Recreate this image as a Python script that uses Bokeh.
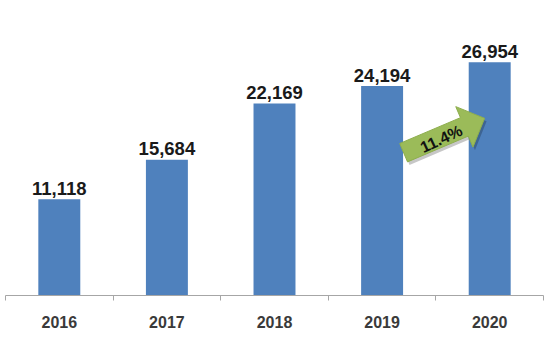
import math
from bokeh.plotting import figure
from bokeh.models import Range1d, FixedTicker, ColumnDataSource, Div
from bokeh.layouts import column
from bokeh.core.properties import value
from bokeh.embed import file_html
from bokeh.resources import INLINE

# ---- data ----
years = [2016, 2017, 2018, 2019, 2020]
values = [11118, 15684, 22169, 24194, 26954]
value_labels = [f"{v:,}" for v in values]
year_labels = [str(y) for y in years]
growth_label = f"{(values[-1] / values[-2] - 1) * 100:.1f}%"

# ---- layout constants ----
W, H = 550, 336
BL, BR, BT, BB = 5, 7, 0, 41
frame_w = W - BL - BR
frame_h = H - BT - BB
x0, x1 = years[0] - 0.5, years[-1] + 0.5
y0, y1 = 0, 34080
kx = frame_w / (x1 - x0)          # px per x unit
ky = frame_h / (y1 - y0)          # px per y unit

p = figure(width=W, height=H, output_backend="svg", toolbar_location=None,
           x_range=Range1d(x0, x1), y_range=Range1d(y0, y1),
           y_axis_location=None,
           min_border_left=BL, min_border_right=BR,
           min_border_top=BT, min_border_bottom=BB)
p.outline_line_color = None
p.xgrid.visible = False
p.ygrid.visible = False
p.background_fill_color = "white"
p.border_fill_color = "white"

# bars
src = ColumnDataSource(dict(x=years, top=values, lab=value_labels))
p.vbar(x="x", top="top", width=0.39, source=src,
       fill_color="#4F81BD", line_color=None)

# value labels
p.text(x="x", y="top", text="lab", source=src,
       text_align="center", text_baseline="alphabetic", y_offset=-11,
       text_font=value("Liberation Sans"), text_font_style="bold",
       text_font_size="18.5px", text_color="#1a1a1a")

# x axis
ax = p.xaxis[0]
ax.ticker = FixedTicker(ticks=years,
                        minor_ticks=[y - 0.5 for y in years] + [years[-1] + 0.5])
ax.major_label_overrides = {y: s for y, s in zip(years, year_labels)}
ax.major_tick_out = 0
ax.major_tick_in = 0
ax.minor_tick_out = 5
ax.minor_tick_in = 0
ax.minor_tick_line_color = "#a6a6a6"
ax.axis_line_color = "#a6a6a6"
ax.major_label_standoff = 15
ax.major_label_text_font = "Liberation Sans"
ax.major_label_text_font_style = "bold"
ax.major_label_text_font_size = "16px"
ax.major_label_text_color = "#3a3a3a"

# growth arrow (annotation), geometry in pixels converted to data units
ang = math.radians(23)
L, bl, bw, hw = 88, 66, 20, 44
ax_anchor, ay_anchor = years[3] + 0.2, 16500
ux, uy = math.cos(ang), math.sin(ang)
nx, ny = -math.sin(ang), math.cos(ang)
pts = [(0, -bw / 2), (bl, -bw / 2), (bl, -hw / 2), (L, 0),
       (bl, hw / 2), (bl, bw / 2), (0, bw / 2)]


def to_data(a, b, dx=0.0, dy=0.0):
    px = a * ux + b * nx + dx
    py = a * uy + b * ny + dy
    return ax_anchor + px / kx, ay_anchor + py / ky


shadow = [to_data(a, b, 2, -3) for a, b in pts]
arrow = [to_data(a, b) for a, b in pts]
p.patch([q[0] for q in shadow], [q[1] for q in shadow],
        fill_color="#000000", fill_alpha=0.22, line_color=None)
p.patch([q[0] for q in arrow], [q[1] for q in arrow],
        fill_color="#9BBB59", line_color="#8eae4e", line_width=1)

tx, ty = to_data(40, -2)
p.text(x=[tx], y=[ty], text=[growth_label], angle=math.radians(25),
       text_align="center", text_baseline="middle",
       text_font=value("Liberation Sans"), text_font_style="bold",
       text_font_size="16px", text_color="#111111")

line = Div(width=W, height=1, styles={"background-color": "#d9d9d9"})
layout = column(p, line, spacing=0)

open("out.html", "w").write(file_html(layout, INLINE))
